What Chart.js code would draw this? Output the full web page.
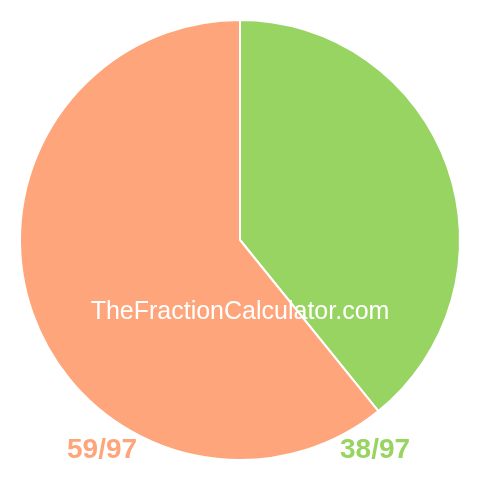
<!DOCTYPE html>
<html><head><meta charset="utf-8">
<script src="https://cdn.jsdelivr.net/npm/chart.js@4/dist/chart.umd.min.js"></script>
<style>
html,body{margin:0;padding:0;background:#fff;}
#wrap{position:relative;width:480px;height:480px;}
canvas{position:absolute;left:0;top:0;}
.t{position:absolute;font-family:"Liberation Sans",Arial,sans-serif;white-space:nowrap;line-height:1;}
#center{left:0;width:480px;text-align:center;top:298px;font-size:25px;color:#fff;}
#lab0{left:67px;top:435px;font-size:28px;font-weight:bold;color:#FFA57B;}
#lab1{left:340px;top:435px;font-size:28px;font-weight:bold;color:#98D462;}
</style></head>
<body>
<div id="wrap">
<canvas id="c" width="480" height="480"></canvas>
<div class="t" id="center">TheFractionCalculator.com</div>
<div class="t" id="lab0"></div>
<div class="t" id="lab1"></div>
</div>
<script>
const categories = ["38/97", "59/97"];
const values = [38, 59];
const colors = ["#98D462", "#FFA57B"];
const cornerLabels = ["59/97", "38/97"];

document.getElementById('lab0').textContent = cornerLabels[0];
document.getElementById('lab1').textContent = cornerLabels[1];

new Chart(document.getElementById('c'), {
  type: 'pie',
  data: {
    labels: categories,
    datasets: [{
      data: values,
      backgroundColor: colors,
      borderColor: '#ffffff',
      borderWidth: 2
    }]
  },
  options: {
    responsive: false,
    animation: false,
    layout: { padding: 19 },
    plugins: { legend: { display: false }, tooltip: { enabled: false } }
  }
});
</script>
</body></html>
